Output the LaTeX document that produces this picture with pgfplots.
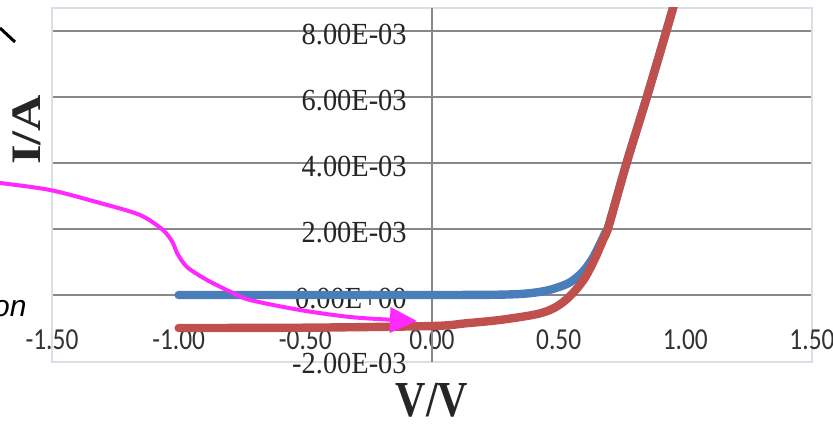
\documentclass[border=0pt]{standalone}
\usepackage{fontspec}
\setmainfont{Liberation Serif}
\newfontfamily\calibfont{Carlito}
\newfontfamily\arialfont{Liberation Sans}
\usepackage{graphicx}
\usepackage{pgfplots}
\pgfplotsset{compat=1.18}
\usetikzlibrary{arrows.meta}

\definecolor{curveblue}{RGB}{74,126,187}
\definecolor{curvered}{RGB}{192,80,77}
\definecolor{gridgray}{RGB}{136,136,136}
\definecolor{framegray}{RGB}{218,222,230}
\definecolor{arrowpink}{RGB}{255,40,255}

% tick labels above the curves, grid below
\pgfplotsset{
  layers/labels on top/.define layer set={
    axis background,axis grid,axis ticks,axis lines,pre main,main,
    axis tick labels,axis descriptions,axis foreground}{},
}

% the screenshot is stretched a little in height
\newcommand{\vs}[1]{\scalebox{1}[1.2]{#1}}
\newcommand{\vy}[1]{\scalebox{1}[1.08]{#1}}

\begin{document}
\begin{tikzpicture}[x=1pt,y=1pt]
\begin{axis}[
  set layers=labels on top,
  at={(26pt,32pt)}, anchor=south west,
  scale only axis, width=380pt, height=177pt,
  xmin=-1.5, xmax=1.5, ymin=-0.00203, ymax=0.0087,
  axis line style={framegray, line width=0.8pt},
  major tick length=0pt,
  scaled y ticks=false,
  xtick={-1.5,-1,-0.5,0,0.5,1,1.5},
  xticklabels={\vs{-1.50},\vs{-1.00},\vs{-0.50},\vs{0.00},\vs{0.50},\vs{1.00},\vs{1.50}},
  xticklabel style={font=\fontsize{12.7}{14}\calibfont, text=black!80, anchor=center, yshift=11pt},
  ytick={0,0.002,0.004,0.006,0.008},
  yticklabels={\vy{0.00E+00},\vy{2.00E-03},\vy{4.00E-03},\vy{6.00E-03},\vy{8.00E-03}},
  yticklabel style={font=\fontsize{14.2}{16}\selectfont, text=black!85, anchor=east, inner sep=0pt, xshift=177.5pt, yshift=-1.5pt},
  extra y ticks={-0.002},
  extra y tick labels={\vy{-2.00E-03}},
  extra y tick style={grid=none},
  extra x ticks={0},
  extra x tick labels={},
  extra x tick style={grid=major},
  ymajorgrids,
  major grid style={gridgray, line width=1.4pt},
]
% dark
\addplot[curveblue, line width=4.2pt, line cap=round, smooth] coordinates {
  (-1.0,0) (-0.5,0) (0,0) (0.264,0.00001) (0.38,0.00005)
  (0.461,0.00015) (0.539,0.00036) (0.591,0.00067) (0.63,0.00106)
  (0.657,0.00145) (0.685,0.00190) (0.697,0.00210) (0.768,0.0040)
  (0.848,0.0060) (0.925,0.0080) (0.97,0.0092)
};
% illuminated
\addplot[curvered, line width=4.2pt, line cap=round, smooth] coordinates {
  (-1.0,-0.00100) (-0.5,-0.00099) (0,-0.00094) (0.13,-0.00086)
  (0.264,-0.00076) (0.394,-0.00061) (0.45,-0.00050) (0.49,-0.00036)
  (0.528,-0.00015) (0.567,0.00015) (0.606,0.00055) (0.646,0.00115)
  (0.675,0.00167) (0.697,0.00208) (0.768,0.0040) (0.848,0.0060)
  (0.925,0.0080) (0.97,0.0092)
};
\end{axis}
\node[rotate=90, font=\fontsize{21}{24}\selectfont\bfseries, text=black!85] at (13.5pt,148pt) {\scalebox{1.2}[1]{I/A}};
\node[font=\fontsize{21}{24}\selectfont\bfseries, text=black!85] at (216pt,13pt) {\vs{V/V}};
\node[anchor=base east, inner sep=0pt, font=\fontsize{15}{18}\arialfont\itshape] at (13.5pt,54.5pt) {on};
\draw[line width=1.5pt] (0pt,199pt) -- (7.5pt,192pt);
\draw[arrowpink, line width=2pt, -{Triangle[length=13.5pt, width=12.5pt]}]
  plot[smooth] coordinates {(0,121.5) (25,118) (50,111.5) (70,105.5) (81.5,98)
    (86.5,91.5) (88.5,86.5) (93.5,79.5) (103.5,73) (116.5,66.5) (125,63)
    (150,58) (175,54.5) (197.5,53) (208.5,52.5)};
\pgfresetboundingbox
\path[use as bounding box] (0,0) rectangle (416.5pt,213pt);
\end{tikzpicture}
\end{document}
